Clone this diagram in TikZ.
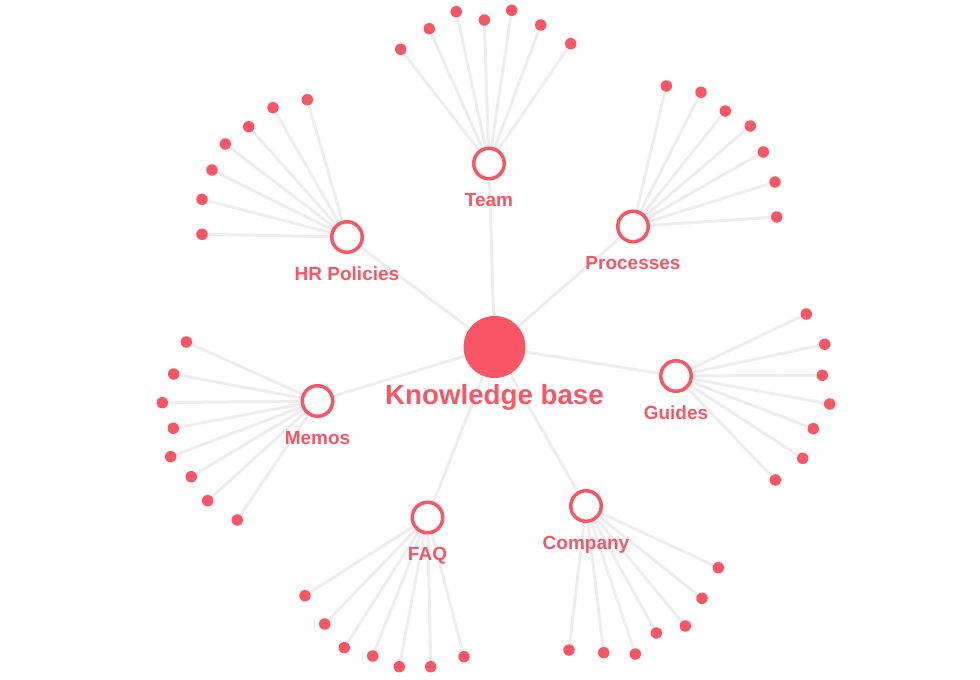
\documentclass[tikz,border=0pt]{standalone}
\usepackage{fontspec}
\setmainfont{Liberation Sans}
\usetikzlibrary{calc,backgrounds}

\definecolor{kbred}{HTML}{F85664}
\definecolor{linegray}{HTML}{EDEDF0}

\tikzset{root/.style = {shape = circle,
                        fill = kbred,
                        inner sep = 0pt,
                        minimum size = 62pt},
         hub/.style = {shape = circle,
                       draw = kbred,
                       fill = white,
                       line width = 3.5pt,
                       inner sep = 0pt,
                       minimum size = 30.5pt},
         leaf/.style = {shape = circle,
                        fill = kbred,
                        inner sep = 0pt,
                        minimum size = 11.5pt},
         lbl/.style = {text = kbred,
                       anchor = base,
                       inner sep = 0pt,
                       font = \fontsize{19}{21}\selectfont\bfseries},
         link/.style = {draw = linegray,
                        line width = 3pt}}

\begin{document}
\begin{tikzpicture}[x=1pt, y=-1pt]
		\useasboundingbox (0,0) rectangle (980,680);
		% centre and hubs
		\node[root] (kb) at (494.5,347) {};
		\node[hub] (team) at (489,163.5) {};
		\node[hub] (proc) at (633,226.5) {};
		\node[hub] (guides) at (676,376) {};
		\node[hub] (comp) at (586,506) {};
		\node[hub] (faq) at (427.5,517.5) {};
		\node[hub] (memos) at (317.5,401) {};
		\node[hub] (hr) at (347,237) {};
		% team leaves
		\node[leaf] (t1) at (400.7,49.3) {};
		\node[leaf] (t2) at (429.3,28.7) {};
		\node[leaf] (t3) at (456.3,11.7) {};
		\node[leaf] (t4) at (484.3,20) {};
		\node[leaf] (t5) at (511.7,10.3) {};
		\node[leaf] (t6) at (540.7,25) {};
		\node[leaf] (t7) at (570.7,43.7) {};
		% processes leaves
		\node[leaf] (p1) at (666.3,86) {};
		\node[leaf] (p2) at (701,92.3) {};
		\node[leaf] (p3) at (725.3,111) {};
		\node[leaf] (p4) at (750.3,126) {};
		\node[leaf] (p5) at (763.3,152) {};
		\node[leaf] (p6) at (775,182) {};
		\node[leaf] (p7) at (776.7,217) {};
		% guides leaves
		\node[leaf] (g1) at (806.3,314) {};
		\node[leaf] (g2) at (824.7,344.3) {};
		\node[leaf] (g3) at (822.3,375.3) {};
		\node[leaf] (g4) at (829.7,404) {};
		\node[leaf] (g5) at (813.3,428.7) {};
		\node[leaf] (g6) at (802.7,458.3) {};
		\node[leaf] (g7) at (775.3,480) {};
		% company leaves
		\node[leaf] (c1) at (718.3,567.7) {};
		\node[leaf] (c2) at (702,598.3) {};
		\node[leaf] (c3) at (685.3,626) {};
		\node[leaf] (c4) at (656.3,633) {};
		\node[leaf] (c5) at (635.3,654) {};
		\node[leaf] (c6) at (603.7,652.7) {};
		\node[leaf] (c7) at (569,650) {};
		% faq leaves
		\node[leaf] (f1) at (305,595.7) {};
		\node[leaf] (f2) at (324.7,624) {};
		\node[leaf] (f3) at (344.3,647.7) {};
		\node[leaf] (f4) at (372.7,656) {};
		\node[leaf] (f5) at (399.3,666.7) {};
		\node[leaf] (f6) at (430.7,666.7) {};
		\node[leaf] (f7) at (464,656.7) {};
		% memos leaves
		\node[leaf] (m1) at (186.3,342) {};
		\node[leaf] (m2) at (173.7,374) {};
		\node[leaf] (m3) at (162.3,402.7) {};
		\node[leaf] (m4) at (173.3,428.3) {};
		\node[leaf] (m5) at (170.7,456.7) {};
		\node[leaf] (m6) at (191.3,476.7) {};
		\node[leaf] (m7) at (207.7,500.7) {};
		\node[leaf] (m8) at (237.3,520) {};
		% hr leaves
		\node[leaf] (h1) at (307.3,99.7) {};
		\node[leaf] (h2) at (273,107.7) {};
		\node[leaf] (h3) at (248.7,126.7) {};
		\node[leaf] (h4) at (225.3,144) {};
		\node[leaf] (h5) at (212,170) {};
		\node[leaf] (h6) at (202,199.3) {};
		\node[leaf] (h7) at (202,234.3) {};
		% labels
		\node[lbl, font=\fontsize{27.7}{30}\selectfont\bfseries] (kb-l) at ($(kb)+(0,57)$) {Knowledge base};
		\node[lbl] (team-l) at ($(team)+(0,43)$) {Team};
		\node[lbl] (proc-l) at ($(proc)+(0,43)$) {Processes};
		\node[lbl] (guides-l) at ($(guides)+(0,43)$) {Guides};
		\node[lbl] (comp-l) at ($(comp)+(0,43)$) {Company};
		\node[lbl] (faq-l) at ($(faq)+(0,43)$) {FAQ};
		\node[lbl] (memos-l) at ($(memos)+(0,43)$) {Memos};
		\node[lbl] (hr-l) at ($(hr)+(0,43)$) {HR Policies};
		% links, kept under nodes and labels
		\begin{pgfonlayer}{background}
		\path[link] (kb) edge (team) (kb) edge (proc) (kb) edge (guides) (kb) edge (comp);
		\path[link] (kb) edge (faq) (kb) edge (memos) (kb) edge (hr);
		\path[link] (team) edge (t1) (team) edge (t2) (team) edge (t3) (team) edge (t4);
		\path[link] (team) edge (t5) (team) edge (t6) (team) edge (t7);
		\path[link] (proc) edge (p1) (proc) edge (p2) (proc) edge (p3) (proc) edge (p4);
		\path[link] (proc) edge (p5) (proc) edge (p6) (proc) edge (p7);
		\path[link] (guides) edge (g1) (guides) edge (g2) (guides) edge (g3) (guides) edge (g4);
		\path[link] (guides) edge (g5) (guides) edge (g6) (guides) edge (g7);
		\path[link] (comp) edge (c1) (comp) edge (c2) (comp) edge (c3) (comp) edge (c4);
		\path[link] (comp) edge (c5) (comp) edge (c6) (comp) edge (c7);
		\path[link] (faq) edge (f1) (faq) edge (f2) (faq) edge (f3) (faq) edge (f4);
		\path[link] (faq) edge (f5) (faq) edge (f6) (faq) edge (f7);
		\path[link] (memos) edge (m1) (memos) edge (m2) (memos) edge (m3) (memos) edge (m4);
		\path[link] (memos) edge (m5) (memos) edge (m6) (memos) edge (m7) (memos) edge (m8);
		\path[link] (hr) edge (h1) (hr) edge (h2) (hr) edge (h3) (hr) edge (h4);
		\path[link] (hr) edge (h5) (hr) edge (h6) (hr) edge (h7);
		\end{pgfonlayer}
	\end{tikzpicture}
\end{document}
